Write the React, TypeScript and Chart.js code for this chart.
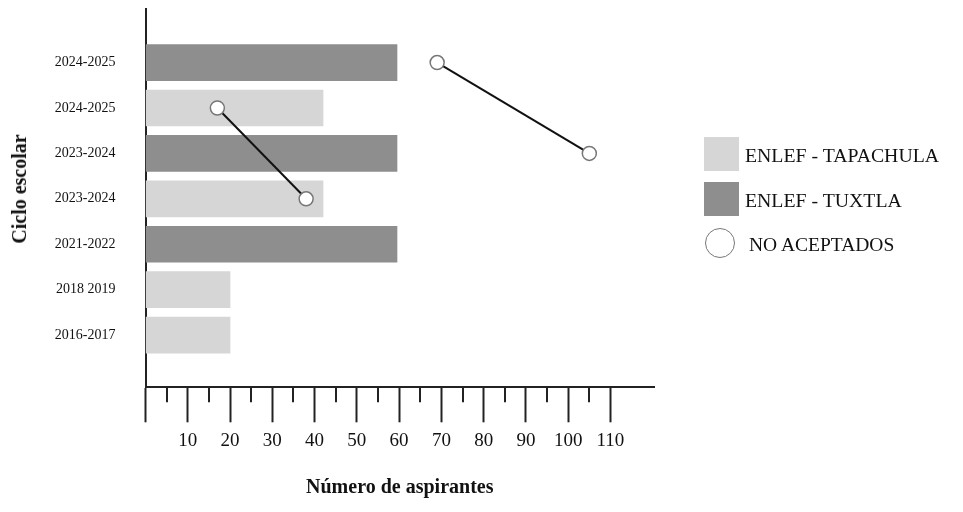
import React, { useEffect, useRef } from "react";
import { Chart, registerables } from "chart.js";

Chart.register(...registerables);

const categories = ["2024-2025", "2024-2025", "2023-2024", "2023-2024", "2021-2022", "2018 2019", "2016-2017"];
const tapachulaValues: (number | null)[] = [null, 42, null, 42, null, 20, 20];
const tuxtlaValues: (number | null)[] = [59.5, null, 59.5, null, 59.5, null, null];
const noAceptadosA_x = [69, 105];
const noAceptadosA_row = [0, 2];
const noAceptadosB_x = [17, 38];
const noAceptadosB_row = [1, 3];
const majorTicks = [0, 10, 20, 30, 40, 50, 60, 70, 80, 90, 100, 110];
const minorTicks = [5, 15, 25, 35, 45, 55, 65, 75, 85, 95, 105];

const FONT = "'Liberation Serif', 'Times New Roman', Times, serif";
const LIGHT = "#d6d6d6";
const DARK = "#8e8e8e";
const AXIS = "#222";

const toPoints = (vals: (number | null)[]) =>
  vals.map((v, i) => (v === null ? null : { x: v, y: i })).filter((p) => p !== null) as { x: number; y: number }[];

const minorTicksPlugin = {
  id: "minorTicks",
  afterDraw(chart: any) {
    const xs = chart.scales.x;
    const ctx = chart.ctx;
    const bottom = chart.chartArea.bottom;
    ctx.save();
    ctx.strokeStyle = AXIS;
    ctx.lineWidth = 2;
    minorTicks.forEach((v) => {
      const px = Math.round(xs.getPixelForValue(v));
      ctx.beginPath();
      ctx.moveTo(px, bottom);
      ctx.lineTo(px, bottom + 15);
      ctx.stroke();
    });
    ctx.restore();
  },
};

export default function App() {
  const ref = useRef<HTMLCanvasElement | null>(null);

  useEffect(() => {
    if (!ref.current) return;
    const lineStyle = {
      type: "line" as const,
      borderColor: "#111",
      borderWidth: 2,
      pointRadius: 7,
      pointBackgroundColor: "#fff",
      pointBorderColor: "#777",
      pointBorderWidth: 1.5,
      tension: 0,
      fill: false,
    };
    const chart = new Chart(ref.current, {
      type: "bar",
      data: {
        datasets: [
          {
            ...lineStyle,
            label: "NO ACEPTADOS",
            data: noAceptadosA_x.map((x, i) => ({ x, y: noAceptadosA_row[i] })),
          } as any,
          {
            ...lineStyle,
            label: "NO ACEPTADOS",
            data: noAceptadosB_x.map((x, i) => ({ x, y: noAceptadosB_row[i] })),
          } as any,
          {
            label: "ENLEF - TAPACHULA",
            data: toPoints(tapachulaValues),
            backgroundColor: LIGHT,
            barThickness: 36,
            grouped: false,
          } as any,
          {
            label: "ENLEF - TUXTLA",
            data: toPoints(tuxtlaValues),
            backgroundColor: DARK,
            barThickness: 36,
            grouped: false,
          } as any,
        ],
      },
      options: {
        indexAxis: "y",
        responsive: false,
        animation: false,
        events: [],
        layout: { padding: { top: 7, right: 309, bottom: 0, left: 0 } },
        plugins: { legend: { display: false }, tooltip: { enabled: false } },
        scales: {
          x: {
            type: "linear",
            position: "bottom",
            min: 0,
            max: 120.3,
            offset: false,
            afterBuildTicks: (scale: any) => {
              scale.ticks = majorTicks.map((v) => ({ value: v }));
            },
            afterFit: (scale: any) => {
              scale.height = 124.7;
            },
            grid: {
              display: true,
              drawOnChartArea: false,
              drawTicks: true,
              tickLength: 35,
              tickWidth: 2,
              color: AXIS,
              offset: false,
            },
            border: { display: true, color: AXIS, width: 2 },
            ticks: {
              autoSkip: false,
              maxRotation: 0,
              padding: 7,
              color: "#111",
              font: { family: FONT, size: 19 },
              callback: (v: any) => (Number(v) === 0 ? "" : String(v)),
            },
            title: {
              display: true,
              text: "Número de aspirantes",
              color: "#111",
              font: { family: FONT, size: 20, weight: "bold" },
              padding: { top: 0, bottom: 12 },
            },
          },
          y: {
            type: "linear",
            position: "left",
            reverse: true,
            min: -1.19,
            max: 7.15,
            offset: false,
            afterBuildTicks: (scale: any) => {
              scale.ticks = categories.map((_, i) => ({ value: i }));
            },
            afterFit: (scale: any) => {
              scale.width = 145.5;
            },
            grid: {
              display: true,
              drawOnChartArea: false,
              drawTicks: true,
              tickLength: 30,
              tickColor: "rgba(0,0,0,0)",
              offset: false,
            },
            border: { display: true, color: AXIS, width: 2 },
            ticks: {
              autoSkip: false,
              padding: 0,
              color: "#111",
              font: { family: FONT, size: 14, lineHeight: 1 },
              callback: (v: any) => categories[Number(v)] ?? "",
            },
            title: { display: false },
          },
        },
      } as any,
      plugins: [minorTicksPlugin],
    });
    return () => chart.destroy();
  }, []);

  const textStyle: React.CSSProperties = {
    position: "absolute",
    fontFamily: FONT,
    fontSize: 19.8,
    lineHeight: "20px",
    color: "#111",
    whiteSpace: "nowrap",
  };

  return (
    <div style={{ position: "fixed", left: 0, top: 0, width: 963, height: 512, background: "#fff" }}>
      <canvas ref={ref} width={963} height={512} style={{ position: "absolute", left: 0, top: 0 }} />
      <div
        style={{
          ...textStyle,
          fontSize: 20,
          fontWeight: "bold",
          left: 19.25,
          top: 189,
          transform: "translate(-50%, -50%) rotate(-90deg)",
        }}
      >
        Ciclo escolar
      </div>
      <div style={{ position: "absolute", left: 704, top: 137, width: 35, height: 34, background: LIGHT }} />
      <div style={{ ...textStyle, left: 745, top: 145 }}>ENLEF - TAPACHULA</div>
      <div style={{ position: "absolute", left: 704, top: 182, width: 35, height: 34, background: DARK }} />
      <div style={{ ...textStyle, left: 745, top: 190 }}>ENLEF - TUXTLA</div>
      <div
        style={{
          position: "absolute",
          left: 705,
          top: 228,
          width: 30,
          height: 30,
          boxSizing: "border-box",
          borderRadius: "50%",
          border: "1.5px solid #777",
          background: "#fff",
        }}
      />
      <div style={{ ...textStyle, left: 749, top: 235, fontSize: 19.5 }}>NO ACEPTADOS</div>
    </div>
  );
}
